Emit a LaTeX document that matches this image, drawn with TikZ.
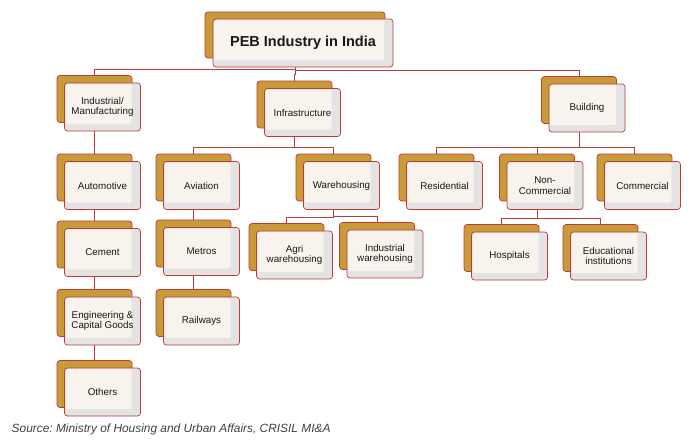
\documentclass[tikz,border=0pt]{standalone}
\usepackage{fontspec}
\setmainfont{Liberation Sans}
\usetikzlibrary{calc}
\usetikzlibrary{backgrounds}
\definecolor{pebgold}{RGB}{200,155,58}
\definecolor{pebred}{RGB}{192,58,52}
\definecolor{pebcream}{RGB}{248,243,236}
\definecolor{pebgrey}{RGB}{228,227,227}
\definecolor{peblink}{RGB}{180,62,62}
\tikzset{
	backbox/.style={draw=pebred, line width=0.7pt, fill=pebgold, rounded corners=3pt, minimum width=75pt, minimum height=47pt, inner sep=0pt},
	frontbox/.style={draw=pebred, line width=0.7pt, fill=pebgrey, rounded corners=3pt, minimum width=76pt, minimum height=48pt, inner sep=0pt, align=center,
		text=black!90, font=\fontsize{9.8}{10.5}\selectfont,
		path picture={\fill[pebcream, rounded corners=2pt] ([shift={(1pt,-1pt)}]path picture bounding box.north west) rectangle ([shift={(-9pt,7pt)}]path picture bounding box.south east);}},
	link/.style={draw=peblink, line width=0.9pt},
}
\def\pebnode(#1)(#2)#3{% back box (#1), front box (#1-f) with the text
	\node[backbox] (#1) at (#2) {};
	\node[frontbox] (#1-f) at ($(#1)+(8,8)$) {#3};
}
\def\pebedge(#1)(#2){\draw[link] (#1.south) |- ($(#2.north)+(0,-6)$) -- (#2.north);}

\begin{document}
\frenchspacing
\begin{tikzpicture}[x=1pt,y=-1pt]
	\useasboundingbox (0,0) rectangle (693,442);
	% root
	\node[backbox, minimum width=180pt, minimum height=46pt] (root) at (295,35) {};
	\node[frontbox, minimum width=180pt, minimum height=48pt, font=\bfseries\fontsize{14.5}{16}\selectfont] (root-f) at ($(root)+(8,8)$) {PEB Industry in India};
	% first level
	\pebnode(ind)(94.5,99){Industrial/\\Manufacturing}
	\pebnode(infra)(294.5,104.5){Infrastructure}
	\pebnode(bld)(579,100){Building}
	% industrial
	\pebnode(auto)(94.5,177.5){Automotive}
	\pebnode(cem)(94.5,244.5){Cement}
	\pebnode(eng)(94.5,313){Engineering \&\\Capital Goods}
	\pebnode(oth)(94.5,384){Others}
	% infrastructure
	\pebnode(avi)(193.5,177.5){Aviation}
	\pebnode(met)(193.5,243.5){Metros}
	\pebnode(rail)(193.5,313){Railways}
	\pebnode(ware)(333.5,177.5){Warehousing}
	\pebnode(agri)(286.5,247){Agri\\warehousing}
	\pebnode(indw)(377,246){Industrial\\warehousing}
	% building
	\pebnode(res)(436.5,177.5){Residential}
	\pebnode(nonc)(537,177.5){Non-\\Commercial}
	\pebnode(com)(634.5,177.5){Commercial}
	\pebnode(hosp)(501.5,248){Hospitals}
	\pebnode(edu)(600.5,248){Educational\\institutions}
	\begin{scope}[on background layer]
		\pebedge(root)(ind)
		\pebedge(root)(infra)
		\pebedge(root)(bld)
		\pebedge(ind)(auto)
		\pebedge(auto)(cem)
		\pebedge(cem)(eng)
		\pebedge(eng)(oth)
		\pebedge(infra)(avi)
		\pebedge(infra)(ware)
		\pebedge(avi)(met)
		\pebedge(met)(rail)
		\pebedge(ware)(agri)
		\pebedge(ware)(indw)
		\pebedge(bld)(res)
		\pebedge(bld)(nonc)
		\pebedge(bld)(com)
		\pebedge(nonc)(hosp)
		\pebedge(nonc)(edu)
	\end{scope}
	\node[anchor=base west, inner sep=0pt, text=black!75, font=\itshape\fontsize{11.9}{14}\selectfont] (src) at (11.5,432) {Source: Ministry of Housing and Urban Affairs, CRISIL MI\&A};
\end{tikzpicture}
\end{document}
